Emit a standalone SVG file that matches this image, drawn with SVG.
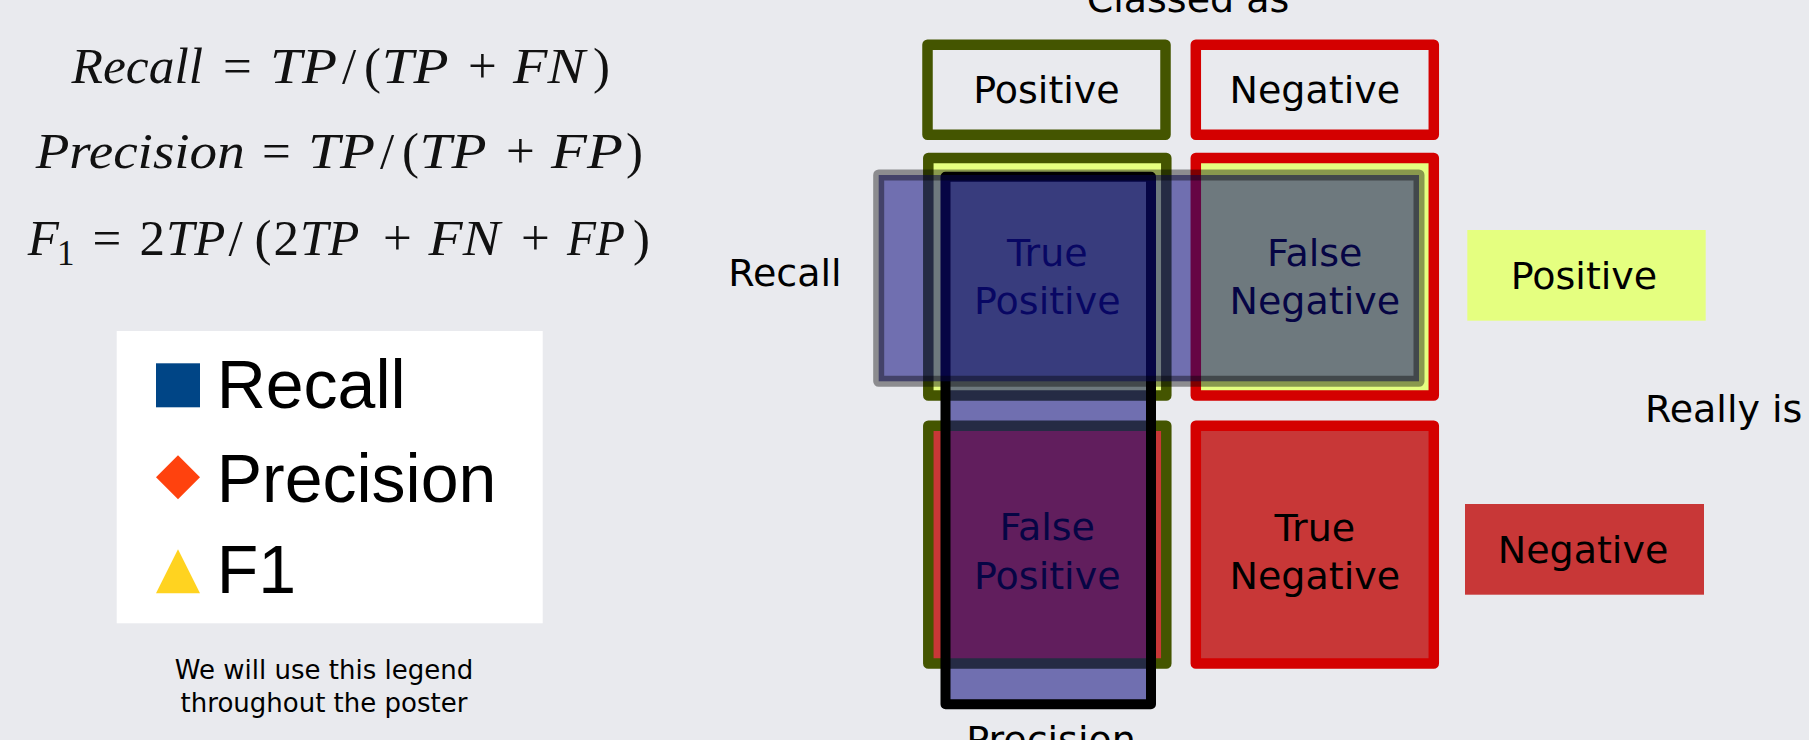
<svg xmlns="http://www.w3.org/2000/svg" width="1809" height="740" viewBox="0 0 1809 740">
  <style>
    .lbl { font-family: "DejaVu Sans", "Liberation Sans", sans-serif; font-size: 38px; fill: #000000; text-anchor: middle; }
    .lbl-l { font-family: "DejaVu Sans", "Liberation Sans", sans-serif; font-size: 38px; fill: #000000; }
    .cap { font-family: "DejaVu Sans", "Liberation Sans", sans-serif; font-size: 26px; fill: #000000; text-anchor: middle; }
    .leg { font-family: "Liberation Sans", Arial, sans-serif; font-size: 68px; fill: #000000; }
    .mi { font-family: "Liberation Serif", "DejaVu Serif", serif; font-style: italic; font-size: 51px; fill: #111111; }
    .mo { font-family: "Liberation Serif", "DejaVu Serif", serif; font-size: 51px; fill: #111111; }
    .sub { font-family: "Liberation Serif", "DejaVu Serif", serif; font-size: 35px; fill: #111111; }
    .pos { stroke: #445500; stroke-width: 10.5; stroke-linejoin: round; }
    .neg { stroke: #d40000; stroke-width: 10.5; stroke-linejoin: round; }
    .yel { fill: #e5ff80; }
    .red { fill: #c83737; }
    .hdr { fill: none; }
    .zone { fill: #0b0a7c; fill-opacity: 0.545; stroke-linejoin: round; }
  </style>

  <!-- page background -->
  <rect x="0" y="0" width="1809" height="740" fill="#e9eaee"/>

  <!-- formulas, one token per text so each symbol sits where the typeset line puts it -->
  <g id="formula-recall">
    <text class="mi" x="71.5" y="82.7" textLength="131.5" lengthAdjust="spacingAndGlyphs">Recall</text>
    <text class="mo" x="223" y="82.7">=</text>
    <text class="mi" x="270" y="82.7" textLength="67" lengthAdjust="spacingAndGlyphs">TP</text>
    <text class="mo" x="342" y="82.7">/</text>
    <text class="mo" x="364" y="82.7">(</text>
    <text class="mi" x="381.7" y="82.7" textLength="67" lengthAdjust="spacingAndGlyphs">TP</text>
    <text class="mo" x="468" y="82.7">+</text>
    <text class="mi" x="513" y="82.7" textLength="72" lengthAdjust="spacingAndGlyphs">FN</text>
    <text class="mo" x="593" y="82.7">)</text>
  </g>
  <g id="formula-precision">
    <text class="mi" x="35.7" y="168.3" textLength="209" lengthAdjust="spacingAndGlyphs">Precision</text>
    <text class="mo" x="262" y="168.3">=</text>
    <text class="mi" x="308" y="168.3" textLength="67" lengthAdjust="spacingAndGlyphs">TP</text>
    <text class="mo" x="380" y="168.3">/</text>
    <text class="mo" x="402" y="168.3">(</text>
    <text class="mi" x="419.6" y="168.3" textLength="67" lengthAdjust="spacingAndGlyphs">TP</text>
    <text class="mo" x="506" y="168.3">+</text>
    <text class="mi" x="551" y="168.3" textLength="71.8" lengthAdjust="spacingAndGlyphs">FP</text>
    <text class="mo" x="626" y="168.3">)</text>
  </g>
  <g id="formula-f1">
    <text class="mi" x="27.7" y="255">F</text>
    <text class="sub" x="57" y="265">1</text>
    <text class="mo" x="92.5" y="255">=</text>
    <text class="mo" x="139.5" y="255">2</text>
    <text class="mi" x="166" y="255" textLength="59.4" lengthAdjust="spacingAndGlyphs">TP</text>
    <text class="mo" x="228.5" y="255">/</text>
    <text class="mo" x="254.5" y="255">(</text>
    <text class="mo" x="273.5" y="255">2</text>
    <text class="mi" x="300" y="255" textLength="59.4" lengthAdjust="spacingAndGlyphs">TP</text>
    <text class="mo" x="383" y="255">+</text>
    <text class="mi" x="428.6" y="255" textLength="71.4" lengthAdjust="spacingAndGlyphs">FN</text>
    <text class="mo" x="521" y="255">+</text>
    <text class="mi" x="567" y="255" textLength="58" lengthAdjust="spacingAndGlyphs">FP</text>
    <text class="mo" x="633" y="255">)</text>
  </g>

  <!-- legend card -->
  <g id="legend">
    <rect x="116.7" y="331" width="426" height="292.3" fill="#ffffff"/>
    <rect x="156" y="363.3" width="44" height="44" fill="#004586"/>
    <text class="leg" x="216.7" y="408.3">Recall</text>
    <polygon points="178,455.3 200,477.3 178,499.3 156,477.3" fill="#ff420e"/>
    <text class="leg" x="216.7" y="501.7">Precision</text>
    <polygon points="178,549.3 200,593.3 156,593.3" fill="#ffd320"/>
    <text class="leg" x="216.7" y="592.7">F1</text>
  </g>
  <g id="legend-caption">
    <text class="cap" x="324" y="679.3">We will use this legend</text>
    <text class="cap" x="324" y="711.7">throughout the poster</text>
  </g>

  <!-- axis titles -->
  <g id="title-classed">
    <text class="lbl" x="1188" y="12">Classed as</text>
  </g>
  <g id="title-really">
    <text class="lbl-l" x="1645" y="421.7">Really is</text>
  </g>

  <!-- column headers -->
  <g id="head-positive">
    <rect class="pos hdr" x="927.5" y="44.7" width="238" height="90"/>
    <text class="lbl" x="1046.5" y="102.7">Positive</text>
  </g>
  <g id="head-negative">
    <rect class="neg hdr" x="1195.8" y="44.7" width="238" height="90"/>
    <text class="lbl" x="1314.8" y="102.7">Negative</text>
  </g>

  <!-- row headers -->
  <g id="row-positive">
    <rect x="1467.3" y="230" width="238.4" height="90.7" fill="#e5ff80"/>
    <text class="lbl" x="1584" y="289.3">Positive</text>
  </g>
  <g id="row-negative">
    <rect x="1465" y="504" width="239" height="90.7" fill="#c83737"/>
    <text class="lbl" x="1583" y="562.7">Negative</text>
  </g>

  <!-- confusion matrix cells -->
  <g id="cell-tp">
    <rect class="pos yel" x="928.3" y="158" width="238" height="237.5"/>
    <text class="lbl" x="1047.3" y="265.5">True</text>
    <text class="lbl" x="1047.3" y="314">Positive</text>
  </g>
  <g id="cell-fn">
    <rect class="neg yel" x="1195.8" y="158" width="238" height="237.5"/>
    <text class="lbl" x="1314.8" y="265.5">False</text>
    <text class="lbl" x="1314.8" y="314">Negative</text>
  </g>
  <g id="cell-fp">
    <rect class="pos red" x="928.3" y="425.8" width="238" height="237.7"/>
    <text class="lbl" x="1047.3" y="539.5">False</text>
    <text class="lbl" x="1047.3" y="588.5">Positive</text>
  </g>
  <g id="cell-tn">
    <rect class="neg red" x="1195.8" y="425.8" width="238" height="237.7"/>
    <text class="lbl" x="1314.8" y="540.5">True</text>
    <text class="lbl" x="1314.8" y="589">Negative</text>
  </g>

  <!-- metric overlays: precision column, then recall row on top -->
  <g id="zone-precision">
    <rect class="zone" x="945.5" y="176.7" width="205.5" height="527.5" stroke="#000000" stroke-width="10"/>
    <text class="lbl" x="1051" y="752.7">Precision</text>
  </g>
  <g id="zone-recall">
    <rect class="zone" x="878.7" y="175" width="540.3" height="206.3" stroke="#000000" stroke-opacity="0.4" stroke-width="11"/>
    <text class="lbl-l" x="728.3" y="285.7">Recall</text>
  </g>

  <g id="connectors"/>
</svg>
